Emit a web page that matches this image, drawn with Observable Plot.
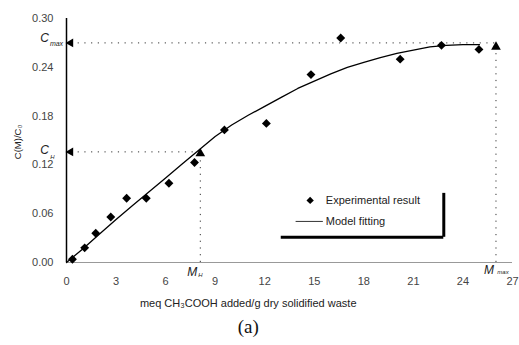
<!DOCTYPE html>
<html>
<head>
<meta charset="utf-8">
<script src="https://cdn.jsdelivr.net/npm/d3@7"></script>
<script src="https://cdn.jsdelivr.net/npm/@observablehq/plot@0.6"></script>
<style>
  html, body { margin: 0; padding: 0; background: white; }
</style>
</head>
<body>
<div id="chart"></div>
<script>
// ---- data ----
const xTicks = [0, 3, 6, 9, 12, 15, 18, 21, 24, 27];
const yTicks = [0.00, 0.06, 0.12, 0.18, 0.24, 0.30];

const expX = [0.36, 1.1, 1.77, 2.68, 3.64, 4.83, 6.2, 7.75, 9.56, 12.1, 14.8, 16.6, 20.2, 22.7, 24.97];
const expY = [0.004, 0.018, 0.036, 0.056, 0.079, 0.079, 0.0975, 0.123, 0.163, 0.171, 0.231, 0.276, 0.250, 0.267, 0.262];

const fitX = [0, 1, 2, 3, 4, 5, 6, 7, 8, 9, 10, 11, 12, 13, 14, 15, 16, 17, 18, 19, 20, 21, 22, 23, 24, 25];
const fitY = [0, 0.017, 0.035, 0.053, 0.070, 0.087, 0.104, 0.121, 0.138, 0.155, 0.169, 0.181, 0.192, 0.203, 0.214, 0.223, 0.232, 0.240, 0.246, 0.252, 0.257, 0.261, 0.265, 0.267, 0.268, 0.268];

const M_H = 8.1, C_H = 0.136;
const M_max = 26.0, C_max = 0.27;

const yLabel = "C(M)/C\u2080";
const xLabel = "meq CH\u2083COOH added/g dry solidified waste";
const caption = "(a)";
const legendLabels = ["Experimental result", "Model fitting"];

// ---- build ----
const exp = expX.map((x, i) => ({x, y: expY[i]}));
const fit = fitX.map((x, i) => ({x, y: fitY[i]}));
const font = "Liberation Sans, Arial, Helvetica, sans-serif";

const chart = Plot.plot({
  width: 519,
  height: 345,
  marginLeft: 66,
  marginRight: 7,
  marginTop: 18,
  marginBottom: 83,
  style: {fontFamily: font, fontSize: "11px", background: "white", color: "#222"},
  x: {domain: [0, 27]},
  y: {domain: [0, 0.30]},
  marks: [
    Plot.axisX({ticks: xTicks, tickSize: 0, tickPadding: 15, label: null, fill: "#444"}),
    Plot.axisY({ticks: yTicks, tickSize: 0, tickPadding: 13, tickFormat: d3.format(".2f"), label: null, fill: "#444"}),
    // axes lines
    Plot.ruleY([0], {stroke: "#999", strokeWidth: 1.2}),
    Plot.ruleX([0], {stroke: "black", strokeWidth: 1.5}),
    // dotted guides
    Plot.ruleY([C_max], {x1: 0.3, x2: M_max, stroke: "#333", strokeDasharray: "1.2,5.5"}),
    Plot.ruleX([M_max], {y1: 0, y2: C_max, stroke: "#333", strokeDasharray: "1.2,5.5"}),
    Plot.ruleY([C_H], {x1: 0.3, x2: M_H, stroke: "#333", strokeDasharray: "1.2,5.5"}),
    Plot.ruleX([M_H], {y1: 0, y2: C_H, stroke: "#333", strokeDasharray: "1.2,5.5"}),
    // axis arrows
    Plot.dot([C_max, C_H], {x: 0.25, y: d => d, symbol: "triangle", rotate: -90, r: 3.3, fill: "black", stroke: "none"}),
    // model line
    Plot.line(fit, {x: "x", y: "y", stroke: "black", strokeWidth: 1.3}),
    // experimental points
    Plot.dot(exp, {x: "x", y: "y", symbol: "diamond2", r: 4, fill: "black", stroke: "none"}),
    // triangle markers
    Plot.dot([[M_H, C_H - 0.002], [M_max, C_max - 0.005]], {x: d => d[0], y: d => d[1], symbol: "triangle", r: 3.6, fill: "black", stroke: "none"}),
    // C labels
    Plot.text(["C"], {x: 0, y: C_max, dx: -22, dy: -5, fontStyle: "italic", fontSize: 12, fill: "#222"}),
    Plot.text(["max"], {x: 0, y: C_max, dx: -10, dy: 1, fontStyle: "italic", fontSize: 7, fill: "#222"}),
    Plot.text(["C"], {x: 0, y: C_H, dx: -22, dy: -2, fontStyle: "italic", fontSize: 12, fill: "#222"}),
    Plot.text(["H"], {x: 0, y: C_H, dx: -14, dy: 5, fontStyle: "italic", fontSize: 6, fill: "#222"}),
    // M labels
    Plot.text(["M"], {x: M_H, y: 0, dx: -8, dy: 10, fontStyle: "italic", fontSize: 12, fill: "#222"}),
    Plot.text(["H"], {x: M_H, y: 0, dx: 0, dy: 13, fontStyle: "italic", fontSize: 6, fill: "#222"}),
    Plot.text(["M"], {x: M_max, y: 0, dx: -7, dy: 8, fontStyle: "italic", fontSize: 12, fill: "#222"}),
    Plot.text(["max"], {x: M_max, y: 0, dx: 7, dy: 10, fontStyle: "italic", fontSize: 6, fill: "#222"}),
    // axis titles
    Plot.text([yLabel], {frameAnchor: "left", y: 0.127, dx: -49, rotate: -90, fontSize: 9.5, fill: "#222"}),
    Plot.text([xLabel], {x: 11, frameAnchor: "bottom", dy: 44, fontSize: 11, fill: "#222"}),
    Plot.text([caption], {x: 11, frameAnchor: "bottom", dy: 70, fontSize: 19, fontFamily: "Liberation Serif, Times New Roman, serif", fill: "#111"}),
    // legend
    Plot.ruleY([0.031], {x1: 13.0, x2: 22.84, stroke: "black", strokeWidth: 3}),
    Plot.ruleX([22.84], {y1: 0.031, y2: 0.085, stroke: "black", strokeWidth: 3}),
    Plot.dot([0], {x: 14.75, y: 0.0763, symbol: "diamond2", r: 3.3, fill: "black", stroke: "none"}),
    Plot.text([legendLabels[0]], {x: 15.7, y: 0.0763, textAnchor: "start", fontSize: 11, fill: "#222"}),
    Plot.ruleY([0.0505], {x1: 13.9, x2: 15.55, stroke: "#333", strokeWidth: 1}),
    Plot.text([legendLabels[1]], {x: 15.7, y: 0.0505, textAnchor: "start", fontSize: 11, fill: "#222"})
  ]
});
document.getElementById("chart").append(chart);
</script>
</body>
</html>
